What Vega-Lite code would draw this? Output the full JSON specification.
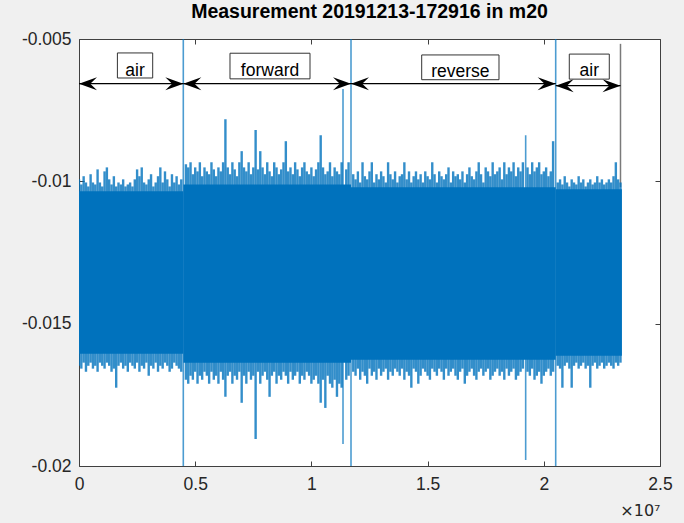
{
  "$schema": "https://vega.github.io/schema/vega-lite/v6.json",
  "width": 581,
  "height": 427,
  "autosize": {"type": "none"},
  "padding": {"left": 79, "top": 39, "right": 24, "bottom": 57},
  "background": "#f0f0f0",
  "title": {"text": "Measurement 20191213-172916 in m20", "font": "Liberation Sans", "fontSize": 19.5, "fontWeight": "bold", "color": "#000000", "offset": 8, "anchor": "middle"},
  "config": {"view": {"stroke": "#404040", "strokeWidth": 1, "fill": "white"}},
  "datasets": {
    "signal": [
      {"x":0.00,"h":-0.00993,"l":-0.01648},{"x":0.01,"h":-0.01011,"l":-0.01658},{"x":0.02,"h":-0.00982,"l":-0.01637},{"x":0.03,"h":-0.01004,"l":-0.01669},{"x":0.04,"h":-0.01018,"l":-0.01648},
      {"x":0.05,"h":-0.00975,"l":-0.01637},{"x":0.06,"h":-0.01004,"l":-0.01658},{"x":0.07,"h":-0.01011,"l":-0.01648},{"x":0.08,"h":-0.00958,"l":-0.01669},{"x":0.09,"h":-0.01004,"l":-0.01637},
      {"x":0.10,"h":-0.01018,"l":-0.01648},{"x":0.11,"h":-0.00965,"l":-0.01658},{"x":0.12,"h":-0.00951,"l":-0.01637},{"x":0.13,"h":-0.00993,"l":-0.01648},{"x":0.14,"h":-0.01011,"l":-0.01669},
      {"x":0.15,"h":-0.00982,"l":-0.01658},{"x":0.16,"h":-0.01018,"l":-0.01725},{"x":0.17,"h":-0.01004,"l":-0.01648},{"x":0.18,"h":-0.01011,"l":-0.01637},{"x":0.19,"h":-0.00993,"l":-0.01658},
      {"x":0.20,"h":-0.01018,"l":-0.01648},{"x":0.21,"h":-0.01011,"l":-0.01669},{"x":0.22,"h":-0.01004,"l":-0.01637},{"x":0.23,"h":-0.01018,"l":-0.01648},{"x":0.24,"h":-0.00993,"l":-0.01658},
      {"x":0.25,"h":-0.00958,"l":-0.01637},{"x":0.26,"h":-0.00982,"l":-0.01669},{"x":0.27,"h":-0.00951,"l":-0.01648},{"x":0.28,"h":-0.01004,"l":-0.01658},{"x":0.29,"h":-0.01011,"l":-0.01637},
      {"x":0.30,"h":-0.00993,"l":-0.01683},{"x":0.31,"h":-0.00975,"l":-0.01648},{"x":0.32,"h":-0.01018,"l":-0.01658},{"x":0.33,"h":-0.01004,"l":-0.01637},{"x":0.34,"h":-0.00982,"l":-0.01669},
      {"x":0.35,"h":-0.00951,"l":-0.01648},{"x":0.36,"h":-0.01004,"l":-0.01658},{"x":0.37,"h":-0.00965,"l":-0.01637},{"x":0.38,"h":-0.00993,"l":-0.01648},{"x":0.39,"h":-0.01018,"l":-0.01669},
      {"x":0.40,"h":-0.00975,"l":-0.01658},{"x":0.41,"h":-0.01004,"l":-0.01637},{"x":0.42,"h":-0.00982,"l":-0.01648},{"x":0.43,"h":-0.01011,"l":-0.01658},{"x":0.44,"h":-0.00993,"l":-0.01669},
      {"x":0.46,"h":-0.00940,"l":-0.01697},{"x":0.47,"h":-0.00951,"l":-0.01711},{"x":0.48,"h":-0.00933,"l":-0.01683},{"x":0.49,"h":-0.00975,"l":-0.01697},{"x":0.50,"h":-0.00951,"l":-0.01669},
      {"x":0.51,"h":-0.00965,"l":-0.01711},{"x":0.52,"h":-0.00933,"l":-0.01683},{"x":0.53,"h":-0.00982,"l":-0.01697},{"x":0.54,"h":-0.00951,"l":-0.01669},{"x":0.55,"h":-0.00965,"l":-0.01683},
      {"x":0.56,"h":-0.00975,"l":-0.01711},{"x":0.57,"h":-0.00933,"l":-0.01669},{"x":0.58,"h":-0.00958,"l":-0.01697},{"x":0.59,"h":-0.00982,"l":-0.01683},{"x":0.60,"h":-0.00951,"l":-0.01711},
      {"x":0.61,"h":-0.00965,"l":-0.01669},{"x":0.62,"h":-0.00933,"l":-0.01697},{"x":0.63,"h":-0.00782,"l":-0.01757},{"x":0.64,"h":-0.00951,"l":-0.01683},{"x":0.65,"h":-0.00975,"l":-0.01669},
      {"x":0.66,"h":-0.00933,"l":-0.01711},{"x":0.67,"h":-0.00958,"l":-0.01683},{"x":0.68,"h":-0.00982,"l":-0.01697},{"x":0.69,"h":-0.00933,"l":-0.01669},{"x":0.70,"h":-0.00894,"l":-0.01778},
      {"x":0.71,"h":-0.00951,"l":-0.01683},{"x":0.72,"h":-0.00965,"l":-0.01711},{"x":0.73,"h":-0.00933,"l":-0.01669},{"x":0.74,"h":-0.00975,"l":-0.01697},{"x":0.75,"h":-0.00951,"l":-0.01683},
      {"x":0.76,"h":-0.00820,"l":-0.01905},{"x":0.77,"h":-0.00958,"l":-0.01669},{"x":0.78,"h":-0.00894,"l":-0.01711},{"x":0.79,"h":-0.00951,"l":-0.01683},{"x":0.80,"h":-0.00975,"l":-0.01669},
      {"x":0.81,"h":-0.00933,"l":-0.01697},{"x":0.82,"h":-0.00965,"l":-0.01757},{"x":0.83,"h":-0.00982,"l":-0.01683},{"x":0.84,"h":-0.00933,"l":-0.01669},{"x":0.85,"h":-0.00951,"l":-0.01711},
      {"x":0.86,"h":-0.00975,"l":-0.01683},{"x":0.87,"h":-0.00958,"l":-0.01697},{"x":0.88,"h":-0.00933,"l":-0.01669},{"x":0.89,"h":-0.00859,"l":-0.01683},{"x":0.90,"h":-0.00965,"l":-0.01711},
      {"x":0.91,"h":-0.00951,"l":-0.01669},{"x":0.92,"h":-0.00975,"l":-0.01697},{"x":0.93,"h":-0.00933,"l":-0.01683},{"x":0.94,"h":-0.00958,"l":-0.01669},{"x":0.95,"h":-0.00982,"l":-0.01711},
      {"x":0.96,"h":-0.00951,"l":-0.01683},{"x":0.97,"h":-0.00933,"l":-0.01697},{"x":0.98,"h":-0.00965,"l":-0.01669},{"x":0.99,"h":-0.00975,"l":-0.01683},{"x":1.00,"h":-0.00951,"l":-0.01711},
      {"x":1.01,"h":-0.00982,"l":-0.01697},{"x":1.02,"h":-0.00958,"l":-0.01683},{"x":1.03,"h":-0.00933,"l":-0.01711},{"x":1.04,"h":-0.00838,"l":-0.01778},{"x":1.05,"h":-0.00951,"l":-0.01697},
      {"x":1.06,"h":-0.00975,"l":-0.01796},{"x":1.07,"h":-0.00965,"l":-0.01683},{"x":1.08,"h":-0.00933,"l":-0.01711},{"x":1.09,"h":-0.00982,"l":-0.01725},{"x":1.10,"h":-0.00951,"l":-0.01697},
      {"x":1.11,"h":-0.00965,"l":-0.01757},{"x":1.12,"h":-0.00975,"l":-0.01711},{"x":1.13,"h":-0.00933,"l":-0.01725},{"x":1.15,"h":-0.00958,"l":-0.01697},
      {"x":1.16,"h":-0.00933,"l":-0.01683},
      {"x":1.18,"h":-0.00975,"l":-0.01669},{"x":1.19,"h":-0.00993,"l":-0.01683},{"x":1.20,"h":-0.00965,"l":-0.01658},{"x":1.21,"h":-0.01004,"l":-0.01697},{"x":1.22,"h":-0.00933,"l":-0.01669},
      {"x":1.23,"h":-0.00982,"l":-0.01683},{"x":1.24,"h":-0.00993,"l":-0.01711},{"x":1.25,"h":-0.00965,"l":-0.01658},{"x":1.26,"h":-0.00933,"l":-0.01683},{"x":1.27,"h":-0.01004,"l":-0.01669},
      {"x":1.28,"h":-0.00975,"l":-0.01697},{"x":1.29,"h":-0.00993,"l":-0.01658},{"x":1.30,"h":-0.00965,"l":-0.01683},{"x":1.31,"h":-0.00982,"l":-0.01669},{"x":1.32,"h":-0.01004,"l":-0.01658},
      {"x":1.33,"h":-0.00933,"l":-0.01697},{"x":1.34,"h":-0.00975,"l":-0.01669},{"x":1.35,"h":-0.00993,"l":-0.01683},{"x":1.36,"h":-0.00965,"l":-0.01658},{"x":1.37,"h":-0.01004,"l":-0.01669},
      {"x":1.38,"h":-0.00982,"l":-0.01683},{"x":1.39,"h":-0.00975,"l":-0.01658},{"x":1.40,"h":-0.00933,"l":-0.01697},{"x":1.41,"h":-0.00993,"l":-0.01669},{"x":1.42,"h":-0.00965,"l":-0.01683},
      {"x":1.43,"h":-0.01004,"l":-0.01725},{"x":1.44,"h":-0.00982,"l":-0.01658},{"x":1.45,"h":-0.00965,"l":-0.01669},{"x":1.46,"h":-0.00993,"l":-0.01711},{"x":1.47,"h":-0.00975,"l":-0.01683},
      {"x":1.48,"h":-0.01004,"l":-0.01658},{"x":1.49,"h":-0.00965,"l":-0.01669},{"x":1.50,"h":-0.00982,"l":-0.01683},{"x":1.51,"h":-0.00993,"l":-0.01697},{"x":1.52,"h":-0.00933,"l":-0.01658},
      {"x":1.53,"h":-0.00975,"l":-0.01669},{"x":1.54,"h":-0.01004,"l":-0.01683},{"x":1.55,"h":-0.00965,"l":-0.01658},{"x":1.56,"h":-0.00982,"l":-0.01669},{"x":1.57,"h":-0.00993,"l":-0.01697},
      {"x":1.58,"h":-0.00975,"l":-0.01658},{"x":1.59,"h":-0.00951,"l":-0.01683},{"x":1.60,"h":-0.01004,"l":-0.01669},{"x":1.61,"h":-0.00965,"l":-0.01658},{"x":1.62,"h":-0.00982,"l":-0.01683},
      {"x":1.63,"h":-0.00975,"l":-0.01697},{"x":1.64,"h":-0.00993,"l":-0.01669},{"x":1.65,"h":-0.00965,"l":-0.01658},{"x":1.66,"h":-0.01004,"l":-0.01711},{"x":1.67,"h":-0.00975,"l":-0.01683},
      {"x":1.68,"h":-0.00951,"l":-0.01669},{"x":1.69,"h":-0.00982,"l":-0.01658},{"x":1.70,"h":-0.00993,"l":-0.01683},{"x":1.71,"h":-0.00965,"l":-0.01697},{"x":1.72,"h":-0.00933,"l":-0.01669},
      {"x":1.73,"h":-0.00975,"l":-0.01658},{"x":1.74,"h":-0.01004,"l":-0.01683},{"x":1.75,"h":-0.00951,"l":-0.01669},{"x":1.76,"h":-0.00965,"l":-0.01658},{"x":1.77,"h":-0.00982,"l":-0.01697},
      {"x":1.78,"h":-0.00933,"l":-0.01683},{"x":1.79,"h":-0.00975,"l":-0.01669},{"x":1.80,"h":-0.00965,"l":-0.01658},{"x":1.81,"h":-0.00951,"l":-0.01683},{"x":1.82,"h":-0.00993,"l":-0.01669},
      {"x":1.83,"h":-0.00933,"l":-0.01697},{"x":1.84,"h":-0.00975,"l":-0.01658},{"x":1.85,"h":-0.00951,"l":-0.01683},{"x":1.86,"h":-0.00965,"l":-0.01669},{"x":1.87,"h":-0.00933,"l":-0.01658},
      {"x":1.88,"h":-0.00982,"l":-0.01697},{"x":1.89,"h":-0.00951,"l":-0.01683},{"x":1.90,"h":-0.00965,"l":-0.01669},{"x":1.91,"h":-0.00933,"l":-0.01658},
      {"x":1.93,"h":-0.00951,"l":-0.01669},{"x":1.94,"h":-0.00975,"l":-0.01683},{"x":1.95,"h":-0.00933,"l":-0.01658},{"x":1.96,"h":-0.00965,"l":-0.01697},{"x":1.97,"h":-0.00951,"l":-0.01683},
      {"x":1.98,"h":-0.00933,"l":-0.01669},{"x":1.99,"h":-0.00975,"l":-0.01711},{"x":2.00,"h":-0.00965,"l":-0.01683},{"x":2.01,"h":-0.00951,"l":-0.01669},{"x":2.02,"h":-0.00982,"l":-0.01658},
      {"x":2.03,"h":-0.00965,"l":-0.01683},{"x":2.04,"h":-0.00859,"l":-0.01669},
      {"x":2.06,"h":-0.01004,"l":-0.01648},{"x":2.07,"h":-0.00993,"l":-0.01658},{"x":2.08,"h":-0.01011,"l":-0.01725},{"x":2.09,"h":-0.00982,"l":-0.01648},{"x":2.10,"h":-0.01004,"l":-0.01637},
      {"x":2.11,"h":-0.01018,"l":-0.01658},{"x":2.12,"h":-0.00993,"l":-0.01725},{"x":2.13,"h":-0.01004,"l":-0.01648},{"x":2.14,"h":-0.01011,"l":-0.01637},{"x":2.15,"h":-0.00982,"l":-0.01658},
      {"x":2.16,"h":-0.01004,"l":-0.01648},{"x":2.17,"h":-0.00993,"l":-0.01637},{"x":2.18,"h":-0.01018,"l":-0.01658},{"x":2.19,"h":-0.01004,"l":-0.01648},{"x":2.20,"h":-0.00993,"l":-0.01725},
      {"x":2.21,"h":-0.01011,"l":-0.01648},{"x":2.22,"h":-0.01004,"l":-0.01637},{"x":2.23,"h":-0.00982,"l":-0.01658},{"x":2.24,"h":-0.01004,"l":-0.01648},{"x":2.25,"h":-0.00993,"l":-0.01637},
      {"x":2.26,"h":-0.01011,"l":-0.01658},{"x":2.27,"h":-0.01004,"l":-0.01648},{"x":2.28,"h":-0.00993,"l":-0.01637},{"x":2.29,"h":-0.01004,"l":-0.01648},{"x":2.30,"h":-0.00982,"l":-0.01658},
      {"x":2.31,"h":-0.00933,"l":-0.01637},{"x":2.32,"h":-0.00993,"l":-0.01648},{"x":2.33,"h":-0.01004,"l":-0.01637}
    ],
    "spikes": [
      {"x":0.4488,"h":-0.004,"l":-0.021},
      {"x":1.136,"h":-0.00676,"l":-0.01923},
      {"x":1.1704,"h":-0.004,"l":-0.021},
      {"x":1.922,"h":-0.00838,"l":-0.01979},
      {"x":2.0512,"h":-0.004,"l":-0.021}
    ],
    "core": [
      {"x":0,"x2":0.449,"top":-0.01035,"bot":-0.01606},
      {"x":0.449,"x2":1.1704,"top":-0.01011,"bot":-0.01637},
      {"x":1.1704,"x2":2.0512,"top":-0.01021,"bot":-0.01627},
      {"x":2.0512,"x2":2.336,"top":-0.01028,"bot":-0.01613}
    ],
    "marker": [{"x":2.33,"y":-0.00517,"y2":-0.0102}],
    "arrows": [
      {"x":0,"x2":0.4488,"y":-0.00657},
      {"x":0.4488,"x2":1.1704,"y":-0.00657},
      {"x":1.1704,"x2":2.0512,"y":-0.00657},
      {"x":2.0512,"x2":2.33,"y":-0.00664}
    ],
    "heads": [
      {"x":0,"y":-0.00657,"d":"L"},{"x":0.4488,"y":-0.00657,"d":"R"},
      {"x":0.4488,"y":-0.00657,"d":"L"},{"x":1.1704,"y":-0.00657,"d":"R"},
      {"x":1.1704,"y":-0.00657,"d":"L"},{"x":2.0512,"y":-0.00657,"d":"R"},
      {"x":2.0512,"y":-0.00664,"d":"L"},{"x":2.33,"y":-0.00664,"d":"R"}
    ],
    "labels": [
      {"t":"air","x":0.1652,"x2":0.3171,"cx":0.2412,"y":-0.00549,"y2":-0.00637,"ty":-0.0063},
      {"t":"forward","x":0.6497,"x2":0.994,"cx":0.8219,"y":-0.0055,"y2":-0.0064,"ty":-0.0063},
      {"t":"reverse","x":1.4746,"x2":1.8072,"cx":1.6409,"y":-0.00556,"y2":-0.00643,"ty":-0.00635},
      {"t":"air","x":2.1097,"x2":2.2818,"cx":2.1958,"y":-0.00553,"y2":-0.00641,"ty":-0.00631}
    ]
  },
  "resolve": {"axis": {"x": "independent", "y": "independent"}},
  "layer": [
    {
      "data": {"name": "marker"},
      "mark": {"type": "rule", "color": "#7a7a7a", "strokeWidth": 1.5},
      "encoding": {
        "x": {"field": "x", "type": "quantitative", "scale": {"domain": [0, 2.5], "nice": false, "zero": false}, "axis": null},
        "y": {"field": "y", "type": "quantitative", "scale": {"domain": [-0.02, -0.005], "nice": false, "zero": false}, "axis": null},
        "y2": {"field": "y2"}
      }
    },
    {
      "data": {"name": "signal"},
      "mark": {"type": "rule", "color": "#0072BD", "strokeWidth": 2.4, "opacity": 0.8, "clip": true},
      "encoding": {
        "x": {"field": "x", "type": "quantitative", "scale": {"domain": [0, 2.5], "nice": false, "zero": false},
          "axis": {"orient": "bottom", "values": [0, 0.5, 1, 1.5, 2, 2.5], "format": "~g", "grid": false, "domain": false,
            "tickSize": -5, "tickColor": "#404040", "tickWidth": 1,
            "labelFont": "Liberation Sans", "labelFontSize": 17.5, "labelColor": "#262626", "labelPadding": 14, "labelFlush": false, "labelOverlap": false,
            "title": "×10⁷", "titleFont": "DejaVu Sans", "titleFontSize": 16, "titleFontWeight": "normal", "titleColor": "#262626", "titleAnchor": "end", "titleAlign": "right", "titlePadding": 10}},
        "y": {"field": "l", "type": "quantitative", "scale": {"domain": [-0.02, -0.005], "nice": false, "zero": false},
          "axis": {"orient": "left", "values": [-0.02, -0.015, -0.01, -0.005], "labelExpr": "replace(format(datum.value, '~g'), '−', '-')", "grid": false, "domain": false,
            "tickSize": -5, "tickColor": "#404040", "tickWidth": 1,
            "labelFont": "Liberation Sans", "labelFontSize": 17.5, "labelColor": "#262626", "labelPadding": 13, "labelOverlap": false, "labelFlush": false, "title": null}},
        "y2": {"field": "h"}
      }
    },
    {
      "data": {"name": "spikes"},
      "mark": {"type": "rule", "color": "#0072BD", "strokeWidth": 1.6, "opacity": 0.7, "clip": true},
      "encoding": {
        "x": {"field": "x", "type": "quantitative", "axis": null},
        "y": {"field": "l", "type": "quantitative", "axis": null},
        "y2": {"field": "h"}
      }
    },
    {
      "data": {"name": "core"},
      "mark": {"type": "rect", "color": "#0072BD"},
      "encoding": {
        "x": {"field": "x", "type": "quantitative", "scale": {"domain": [0, 2.5], "nice": false, "zero": false},
          "axis": {"orient": "top", "values": [0, 0.5, 1, 1.5, 2, 2.5], "labels": false, "grid": false, "domain": false, "tickSize": -5, "tickColor": "#404040", "title": null}},
        "x2": {"field": "x2"},
        "y": {"field": "top", "type": "quantitative", "scale": {"domain": [-0.02, -0.005], "nice": false, "zero": false},
          "axis": {"orient": "right", "values": [-0.02, -0.015, -0.01, -0.005], "labels": false, "grid": false, "domain": false, "tickSize": -5, "tickColor": "#404040", "title": null}},
        "y2": {"field": "bot"}
      }
    },
    {
      "data": {"name": "arrows"},
      "mark": {"type": "rule", "color": "#000000", "strokeWidth": 1.2},
      "encoding": {
        "x": {"field": "x", "type": "quantitative", "axis": null},
        "x2": {"field": "x2"},
        "y": {"field": "y", "type": "quantitative", "axis": null}
      }
    },
    {
      "data": {"name": "heads"},
      "mark": {"type": "point", "filled": true, "color": "#000000", "opacity": 1, "size": 324, "strokeWidth": 0},
      "encoding": {
        "x": {"field": "x", "type": "quantitative", "axis": null},
        "y": {"field": "y", "type": "quantitative", "axis": null},
        "shape": {"field": "d", "type": "nominal", "legend": null,
          "scale": {"domain": ["L", "R"], "range": ["M0,0L2,-0.72L1.25,0L2,0.72Z", "M0,0L-2,-0.72L-1.25,0L-2,0.72Z"]}}
      }
    },
    {
      "data": {"name": "labels"},
      "mark": {"type": "rect", "fill": "white", "stroke": "#333333", "strokeWidth": 1},
      "encoding": {
        "x": {"field": "x", "type": "quantitative", "axis": null},
        "x2": {"field": "x2"},
        "y": {"field": "y", "type": "quantitative", "axis": null},
        "y2": {"field": "y2"}
      }
    },
    {
      "data": {"name": "labels"},
      "mark": {"type": "text", "font": "Liberation Sans", "fontSize": 17.5, "color": "#000000", "align": "center", "baseline": "alphabetic"},
      "encoding": {
        "x": {"field": "cx", "type": "quantitative", "axis": null},
        "y": {"field": "ty", "type": "quantitative", "axis": null},
        "text": {"field": "t"}
      }
    }
  ]
}
